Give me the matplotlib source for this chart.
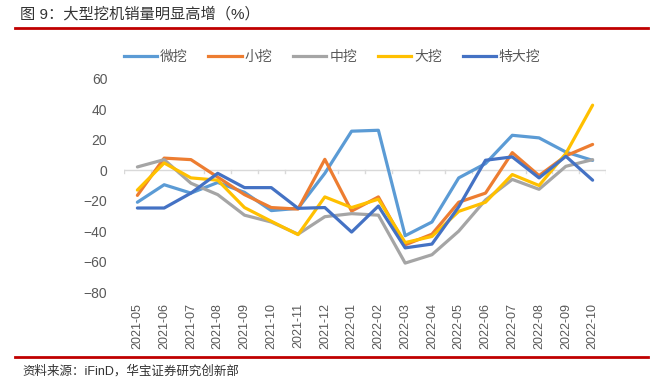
import numpy as np
import matplotlib.pyplot as plt
from matplotlib.lines import Line2D

plt.rcParams['font.family'] = ['Liberation Sans', 'Noto Sans CJK SC', 'DejaVu Sans']

months = ['2021-05', '2021-06', '2021-07', '2021-08', '2021-09', '2021-10',
          '2021-11', '2021-12', '2022-01', '2022-02', '2022-03', '2022-04',
          '2022-05', '2022-06', '2022-07', '2022-08', '2022-09', '2022-10']

weiwa = [-21, -9.5, -15, -8, -14.5, -26.5, -25, -2, 25.7, 26.3, -43, -34,
         -5, 4.4, 23, 21.3, 12, 6.5]
xiaowa = [-16.5, 8, 7, -4.5, -16, -24.5, -25.5, 7.2, -26.8, -17.5, -49, -42,
          -21, -15, 11.6, -3.5, 9.5, 17]
zhongwa = [2.2, 7, -8.5, -16, -29.5, -34, -42, -30.5, -28.5, -29.5, -61, -55.5,
           -40, -19.5, -6, -12.5, 2.6, 7]
dawa = [-13, 4.8, -5, -6.5, -24.5, -33.5, -42.3, -17.5, -24.5, -19, -47.5, -43.5,
        -27, -21, -2.8, -10, 11, 42.8]
tedawa = [-24.8, -24.8, -15, -2, -11.4, -11.4, -25, -24.5, -40.6, -23.5, -51, -48.5,
          -24, 6.6, 8.8, -5, 9.2, -6.5]

names = ['微挖', '小挖', '中挖', '大挖', '特大挖']
series = [weiwa, xiaowa, zhongwa, dawa, tedawa]
colors = ['#5B9BD5', '#ED7D31', '#A5A5A5', '#FFC000', '#4472C4']

fig = plt.figure(figsize=(6.59, 3.85), dpi=100)
ax = fig.add_axes([124/659, 1-292/385, (606-124)/659, (292-79)/385])

x = np.arange(len(months))
for s, c in zip(series, colors):
    ax.plot(x, s, color=c, linewidth=2.3, solid_capstyle='round', solid_joinstyle='round')

ax.set_xlim(-0.5, len(months)-0.5)
ax.set_ylim(-80, 60)
ax.set_yticks(np.arange(-80, 61, 20))
ax.set_xticks(x)
ax.set_xticklabels(months, rotation=90)
for sp in ax.spines.values():
    sp.set_visible(False)
ax.tick_params(axis='x', length=0, labelsize=9, labelcolor='#595959', pad=8)
ax.tick_params(axis='y', length=0, labelsize=10, labelcolor='#595959', pad=12)

# zero line with boundary ticks
ax.axhline(0, color='#D9D9D9', linewidth=1, zorder=0)
for b in np.arange(-0.5, len(months), 1):
    ax.plot([b, b], [0, -1.8], color='#D9D9D9', linewidth=1, zorder=0)

handles = [Line2D([0], [0], color=c, linewidth=2.3) for c in colors]
leg = fig.legend(handles, names, loc='center', bbox_to_anchor=(332/659, 1-57/385),
                 ncol=5, frameon=False, fontsize=10, handlelength=2.4,
                 handletextpad=0.2, columnspacing=1.5)
for t in leg.get_texts():
    t.set_color('#595959')

fig.text(20/659, 1-14/385, '图 9：大型挖机销量明显高增（%）', fontsize=11,
         color='#333333', va='center', ha='left')
fig.add_artist(Line2D([15/659, 648/659], [1-28/385, 1-28/385], color='#C00000', linewidth=2))
fig.add_artist(Line2D([15/659, 648/659], [1-357/385, 1-357/385], color='#C00000', linewidth=2))
fig.text(22/659, 1-371/385, '资料来源：iFinD，华宝证券研究创新部', fontsize=9,
         color='#333333', va='center', ha='left')

fig.savefig('out.png', dpi=100)
